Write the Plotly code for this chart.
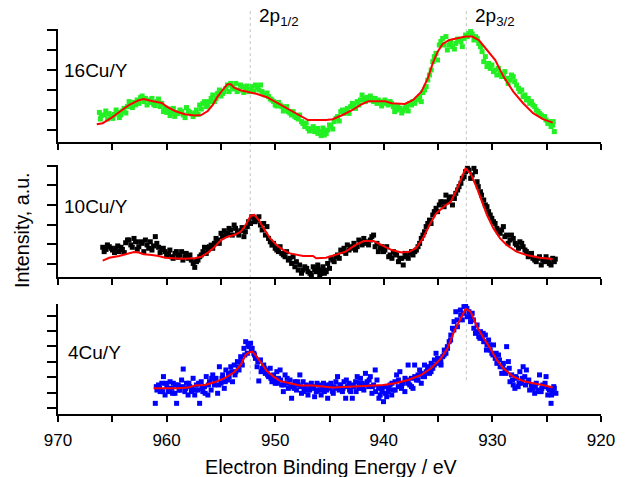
import plotly.graph_objects as go

# ---------------- Cu 2p XPS spectra: binding energy (eV) and intensity (a.u.) ----------------

# 16Cu/Y : measured points
cu16_e = [966.19, 966.03, 965.73, 965.43, 965.13, 964.82, 964.52, 964.22, 963.92, 963.61,
          963.31, 963.01, 962.71, 962.40, 962.10, 961.80, 961.50, 961.19, 960.89, 960.59,
          960.29, 959.98, 959.68, 959.38, 959.08, 958.77, 958.47, 958.17, 957.87, 957.56,
          957.26, 956.96, 956.66, 956.35, 956.05, 955.75, 955.45, 955.14, 954.84, 954.54,
          954.24, 953.93, 953.63, 953.33, 953.03, 952.72, 952.42, 952.12, 951.82, 951.51,
          951.21, 950.91, 950.61, 950.30, 950.00, 949.70, 949.40, 949.09, 948.79, 948.49,
          948.19, 947.88, 947.58, 947.28, 946.98, 946.67, 946.37, 946.07, 945.77, 945.47,
          946.08, 945.78, 945.47, 945.17, 944.87, 944.57, 944.26, 943.96, 943.66, 943.36,
          943.05, 942.75, 942.45, 942.15, 941.84, 941.54, 941.24, 940.94, 940.63, 940.33,
          940.03, 939.73, 939.42, 939.12, 938.82, 938.52, 938.21, 937.91, 937.61, 937.31,
          937.00, 936.70, 936.40, 936.10, 935.95, 935.64, 935.49, 935.19, 934.89, 934.58,
          934.28, 933.98, 933.68, 933.37, 933.07, 932.77, 932.47, 932.16, 931.86, 931.56,
          931.26, 930.95, 930.80, 930.50, 930.20, 929.90, 929.59, 929.29, 928.99, 928.68,
          928.38, 928.08, 927.78, 927.47, 927.17, 926.87, 926.57, 926.27, 925.96, 925.66,
          925.36, 925.06, 924.75, 924.45, 924.30]
cu16_i = [0.88, 0.72, 0.75, 0.55, 0.67, 0.78, 0.88, 0.75, 1.08, 1.17,
          1.25, 1.38, 1.50, 1.62, 1.42, 1.25, 1.38, 1.28, 1.42, 1.17,
          0.92, 0.88, 0.72, 1.08, 0.88, 1.00, 0.75, 1.12, 0.88, 0.67,
          1.00, 1.25, 1.33, 1.17, 1.42, 1.75, 1.58, 2.00, 1.83, 2.08,
          1.92, 2.17, 2.33, 2.00, 2.17, 2.08, 1.92, 2.17, 2.25, 2.00,
          1.92, 1.75, 1.67, 1.50, 1.25, 1.38, 1.17, 1.05, 0.92, 0.75,
          0.67, 0.55, 0.42, 0.17, 0.08, 0.05, -0.08, -0.17, -0.28, -0.05,
          0.08, -0.08, -0.25, 0.00, 0.17, 0.42, 0.67, 0.92, 0.83, 1.08,
          1.17, 1.25, 1.42, 1.50, 1.58, 1.63, 1.70, 1.42, 1.33, 1.42,
          1.33, 1.37, 1.42, 1.17, 1.00, 1.08, 0.97, 1.17, 1.33, 1.42,
          1.50, 1.67, 1.87, 2.17, 2.50, 3.00, 3.42, 3.83, 4.25, 4.58,
          4.67, 4.25, 4.17, 4.33, 4.50, 4.17, 4.75, 4.83, 4.80, 4.67,
          4.33, 3.92, 3.42, 3.17, 3.08, 2.92, 2.75, 2.83, 2.75, 2.58,
          2.50, 2.67, 2.25, 1.92, 1.67, 1.50, 1.33, 1.25, 1.00, 0.83,
          0.67, 0.50, 0.42, 0.25, -0.08]
# remaining points of the same 16Cu/Y scan
cu16_e2 = [966.10, 965.60, 965.30, 964.95, 964.65, 964.35, 964.05, 963.75, 963.45, 963.15,
           962.85, 962.55, 962.25, 961.95, 961.65, 961.35, 961.05, 960.75, 960.45, 960.15,
           959.85, 959.55, 959.25, 958.95, 958.60, 958.30, 958.00, 957.70, 957.40, 957.10,
           956.80, 956.50, 956.20, 955.90, 955.60, 955.30, 955.00, 954.70, 954.40, 954.10,
           953.80, 953.50, 953.20, 952.90, 952.60, 952.30, 952.00, 951.65, 951.35, 951.05,
           950.75, 950.45, 950.15, 949.85, 949.55, 949.25, 948.95, 948.65, 948.35, 948.05,
           947.75, 947.45, 947.15, 946.85, 946.50, 946.20, 945.90, 945.60, 945.30, 945.00,
           944.70, 944.40, 944.10, 943.80, 943.50, 943.20, 942.90, 942.60, 942.30, 942.00,
           941.70, 941.40, 941.10, 940.80, 940.50, 940.20, 939.90, 939.60, 939.30, 939.00,
           938.70, 938.35, 938.05, 937.75, 937.45, 937.15, 936.85, 936.55, 936.25, 935.80,
           935.35, 935.05, 934.75, 934.45, 934.15, 933.85, 933.50, 933.20, 932.90, 932.60,
           932.30, 932.00, 931.70, 931.40, 931.10, 930.65, 930.35, 930.05, 929.75, 929.45,
           929.15, 928.85, 928.55, 928.25, 927.95, 927.60, 927.30, 927.00, 926.70, 926.40,
           926.10, 925.80, 925.50, 925.20, 924.90, 924.60, 924.40]
cu16_i2 = [0.55, 0.95, 0.82, 0.58, 1.00, 0.62, 0.95, 0.85, 1.42, 1.12,
           1.25, 1.33, 1.70, 1.58, 1.50, 1.58, 1.22, 1.55, 1.33, 1.12,
           1.05, 0.92, 0.68, 0.82, 0.92, 0.62, 0.95, 0.80, 0.85, 0.78,
           1.05, 1.42, 1.25, 1.58, 1.42, 1.83, 1.70, 1.92, 2.25, 2.33,
           2.05, 1.92, 2.25, 1.88, 2.20, 2.02, 1.92, 2.12, 2.25, 1.80,
           1.85, 1.55, 1.42, 1.20, 1.25, 0.95, 1.17, 0.85, 0.92, 0.62,
           0.75, 0.33, 0.35, -0.05, 0.17, 0.02, -0.12, 0.10, -0.17, 0.25,
           0.05, 0.58, 0.45, 1.00, 0.95, 0.83, 1.33, 1.08, 1.25, 1.75,
           1.42, 1.50, 1.58, 1.58, 1.50, 1.20, 1.50, 1.25, 1.33, 0.92,
           1.17, 0.85, 1.10, 0.95, 1.25, 1.33, 1.58, 1.42, 2.00, 2.75,
           3.67, 3.50, 4.42, 4.25, 4.00, 4.42, 4.05, 4.55, 4.42, 4.58,
           4.67, 4.92, 4.50, 4.58, 4.17, 3.67, 3.33, 3.25, 3.00, 3.08,
           2.67, 2.92, 2.33, 2.75, 2.42, 2.08, 2.00, 1.75, 1.58, 1.42,
           1.17, 0.92, 0.75, 0.67, 0.33, 0.17, 0.42]

# 16Cu/Y : fitted envelope
cu16_fit_e = [966.43, 965.89, 965.13, 964.37, 963.47, 962.56, 962.11, 961.35, 960.44, 959.99,
              959.23, 958.32, 957.41, 956.81, 956.21, 955.75, 955.30, 954.85, 954.39, 954.09,
              953.78, 953.19, 952.28, 951.67, 950.76, 949.85, 948.95, 948.04, 947.43, 946.98,
              945.32, 944.71, 943.80, 942.89, 941.99, 941.39, 939.87, 939.27, 938.06, 937.30,
              936.54, 935.94, 935.49, 935.04, 934.58, 933.97, 933.22, 932.46, 931.86, 931.25,
              930.50, 929.74, 928.98, 928.08, 927.17, 926.26, 925.35, 924.45]
cu16_fit_i = [0.29, 0.34, 0.59, 0.89, 1.25, 1.49, 1.55, 1.45, 1.35, 1.17,
              0.95, 0.79, 0.72, 0.75, 0.95, 1.25, 1.67, 2.00, 2.29, 2.29,
              2.12, 1.99, 1.89, 1.80, 1.64, 1.37, 1.09, 0.84, 0.62, 0.50,
              0.50, 0.54, 0.75, 1.00, 1.30, 1.44, 1.44, 1.34, 1.30, 1.50,
              1.92, 2.59, 3.34, 3.92, 4.30, 4.50, 4.59, 4.67, 4.67, 4.50,
              4.00, 3.50, 2.67, 1.92, 1.34, 0.84, 0.54, 0.37]

# 10Cu/Y : measured points
cu10_e = [965.88, 965.58, 965.28, 964.98, 964.67, 964.37, 964.07, 963.77, 963.46, 963.16,
          962.86, 962.56, 962.25, 961.95, 961.65, 961.35, 961.04, 960.74, 960.44, 960.14,
          959.83, 959.53, 959.23, 958.93, 958.62, 958.32, 958.02, 957.72, 957.41, 957.11,
          956.81, 956.51, 956.20, 955.90, 955.60, 955.30, 954.99, 954.69, 954.39, 954.09,
          953.78, 953.48, 953.18, 952.88, 952.57, 952.27, 951.97, 951.67, 951.36, 951.06,
          950.76, 950.61, 950.30, 950.00, 949.70, 949.40, 949.09, 948.79, 948.49, 948.19,
          947.88, 947.58, 947.28, 946.98, 946.67, 946.37, 946.07, 945.77, 945.47,
          946.08, 945.78, 945.47, 945.17, 944.87, 944.57, 944.26, 943.96, 943.66, 943.36,
          943.05, 942.75, 942.45, 942.15, 941.84, 941.54, 941.24, 940.94, 940.63, 940.33,
          940.03, 939.73, 939.42, 939.12, 938.82, 938.52, 938.21, 937.91, 937.61, 937.31,
          937.00, 936.70, 936.40, 936.10, 935.79, 935.49, 935.19, 934.89, 934.58, 934.28,
          933.98, 933.68, 933.37, 933.07, 932.77, 932.47, 932.16, 931.86, 931.56, 931.41,
          931.10, 930.80, 930.50, 930.20, 929.90, 929.59, 929.29, 928.99, 928.69, 928.38,
          928.08, 927.78, 927.47, 927.17, 926.87, 926.57, 926.27, 925.96, 925.66, 925.36,
          925.06, 924.75, 924.45, 924.21]
cu10_i = [0.85, 0.74, 0.88, 0.71, 0.80, 0.63, 0.74, 1.08, 1.22, 0.85,
          1.13, 0.88, 1.05, 1.22, 0.80, 0.71, 1.39, 0.85, 0.74, 0.63,
          0.51, 0.37, 0.54, 0.34, 0.63, 0.37, 0.29, 0.20, -0.17, 0.20,
          0.46, 0.85, 0.71, 0.96, 1.05, 1.22, 1.56, 1.69, 1.56, 1.73,
          1.98, 1.59, 1.69, 1.39, 1.90, 2.06, 2.32, 2.23, 1.98, 2.06,
          1.90, 1.30, 0.96, 0.80, 0.63, 0.54, 0.37, 0.20, 0.03, -0.14,
          -0.31, -0.47, -0.14, -0.39, -0.56, -0.31, -0.22, -0.47, -0.31,
          -0.05, -0.31, -0.47, 0.03, 0.29, 0.12, 0.46, 0.71, 0.80, 0.97,
          0.88, 1.05, 0.88, 1.13, 1.30, 1.13, 1.22, 1.47, 1.05, 0.80,
          0.63, 0.88, 0.46, 0.63, 0.46, 0.29, -0.05, 0.37, 0.54, 0.46,
          0.71, 1.05, 1.47, 1.90, 2.23, 2.49, 2.83, 3.00, 3.16, 3.50,
          3.33, 3.00, 3.59, 3.93, 4.35, 4.69, 4.77, 4.52, 4.69, 4.18,
          3.67, 3.25, 2.91, 2.49, 2.15, 1.81, 1.56, 1.90, 1.47, 1.22,
          1.30, 0.97, 1.13, 0.88, 0.63, 0.46, 0.29, 0.12, 0.37, 0.20,
          0.37, 0.03, 0.29, 0.25]
# remaining points of the same 10Cu/Y scan
cu10_e2 = [965.75, 965.45, 965.10, 964.80, 964.50, 964.20, 963.90, 963.60, 963.30, 963.00,
           962.70, 962.40, 962.10, 961.80, 961.50, 961.20, 960.90, 960.60, 960.30, 960.00,
           959.70, 959.40, 959.10, 958.80, 958.50, 958.20, 957.85, 957.55, 957.25, 956.95,
           956.65, 956.35, 956.05, 955.75, 955.45, 955.15, 954.85, 954.55, 954.25, 953.95,
           953.65, 953.35, 953.05, 952.75, 952.45, 952.15, 951.85, 951.50, 951.20, 950.90,
           950.45, 950.15, 949.85, 949.55, 949.25, 948.95, 948.65, 948.35, 948.05, 947.75,
           947.45, 947.10, 946.80, 946.50, 946.20, 945.90, 945.60, 945.30, 945.00, 944.70,
           944.40, 944.10, 943.80, 943.50, 943.20, 942.90, 942.60, 942.30, 942.00, 941.70,
           941.40, 941.10, 940.80, 940.50, 940.20, 939.90, 939.55, 939.25, 938.95, 938.65,
           938.35, 938.05, 937.75, 937.45, 937.15, 936.85, 936.55, 936.25, 935.95, 935.65,
           935.35, 935.05, 934.75, 934.45, 934.15, 933.85, 933.50, 933.20, 932.90, 932.60,
           932.30, 932.00, 931.70, 931.30, 931.00, 930.65, 930.35, 930.05, 929.75, 929.45,
           929.15, 928.85, 928.55, 928.25, 927.90, 927.60, 927.30, 927.00, 926.70, 926.40,
           926.10, 925.80, 925.50, 925.20, 924.90, 924.60, 924.30]
cu10_i2 = [0.63, 0.97, 0.80, 0.58, 0.92, 0.85, 0.58, 1.22, 0.97, 1.30,
           0.75, 1.13, 0.63, 0.97, 1.13, 0.92, 1.05, 0.58, 0.80, 0.46,
           0.71, 0.29, 0.63, 0.46, 0.20, 0.54, 0.46, 0.03, 0.12, 0.37,
           0.63, 0.54, 0.88, 0.80, 1.30, 1.05, 1.39, 1.47, 1.81, 1.47,
           1.81, 1.47, 1.85, 1.64, 2.15, 2.40, 2.15, 2.40, 1.73, 1.47,
           1.13, 1.05, 0.71, 0.88, 0.46, 0.63, 0.29, 0.37, 0.12, -0.05,
           -0.31, -0.22, -0.47, -0.14, -0.39, -0.56, -0.14, -0.39, -0.22, 0.20,
           0.37, 0.29, 0.63, 0.54, 0.71, 0.80, 0.71, 1.22, 0.97, 1.05,
           0.97, 1.39, 0.88, 0.63, 0.88, 0.71, 0.37, 0.29, 0.54, 0.12,
           0.29, 0.54, 0.29, 0.63, 0.63, 0.88, 1.30, 1.64, 2.06, 2.06,
           2.66, 2.66, 3.16, 2.91, 3.16, 3.41, 3.33, 3.76, 4.10, 4.43,
           4.86, 4.35, 4.86, 3.93, 3.50, 3.00, 2.66, 2.32, 2.06, 1.64,
           1.73, 1.39, 1.05, 1.47, 1.05, 0.80, 1.05, 0.71, 0.37, 0.54,
           0.20, 0.29, -0.05, 0.12, 0.20, -0.05, 0.12]

# 10Cu/Y : fitted envelope
cu10_fit_e = [965.88, 965.28, 964.37, 963.46, 963.01, 962.56, 962.10, 961.35, 960.74, 960.14,
              959.53, 958.62, 957.41, 956.81, 956.20, 955.60, 954.99, 954.39, 953.78, 953.18,
              952.72, 952.27, 951.91, 951.51, 951.06, 950.46, 949.85, 949.25, 948.64, 948.04,
              947.43, 946.52, 946.23, 945.32, 944.41, 943.51, 942.60, 941.84, 940.94, 940.18,
              939.27, 938.37, 937.61, 937.00, 936.40, 935.79, 935.19, 934.28, 933.83, 933.37,
              932.92, 932.47, 932.01, 931.41, 930.95, 930.50, 929.90, 929.29, 928.69, 927.78,
              926.87, 925.66, 924.45]
cu10_fit_i = [0.17, 0.32, 0.41, 0.54, 0.61, 0.58, 0.49, 0.46, 0.41, 0.32,
              0.29, 0.27, 0.29, 0.37, 0.58, 0.85, 1.22, 1.39, 1.47, 1.64,
              1.98, 2.44, 2.49, 2.23, 1.81, 1.30, 0.96, 0.71, 0.54, 0.46,
              0.41, 0.41, 0.29, 0.32, 0.46, 0.63, 0.97, 1.17, 1.17, 0.97,
              0.71, 0.59, 0.63, 0.83, 1.30, 1.98, 2.57, 3.00, 3.16, 3.67,
              4.26, 4.86, 4.60, 3.84, 3.16, 2.49, 1.81, 1.30, 0.97, 0.63,
              0.46, 0.32, 0.25]

# 4Cu/Y : measured points
cu4_e = [961.04, 960.89, 960.74, 960.59, 960.44, 960.29, 960.14, 959.98, 959.83, 959.68,
         959.53, 959.38, 959.23, 959.08, 958.93, 958.77, 958.62, 958.47, 958.32, 958.17,
         958.02, 957.87, 957.72, 957.56, 957.41, 957.26, 957.11, 956.96, 956.81, 956.66,
         956.51, 956.35, 956.20, 956.05, 955.90, 955.75, 955.60, 955.45, 955.30, 955.14,
         954.99, 954.84, 954.69, 954.54, 954.39, 954.24, 954.09, 953.93, 953.78, 953.63,
         953.48, 953.33, 953.18, 953.03, 952.88, 952.72, 952.57, 952.42, 952.27, 952.12,
         951.97, 951.82, 951.67, 951.51, 951.36, 951.21, 951.06, 950.91, 950.76, 950.61,
         950.46, 950.30, 950.15, 950.00, 949.85, 949.70, 949.55, 949.40, 949.25, 949.09,
         948.94, 948.79, 948.64, 948.49, 948.34, 948.19, 948.04, 947.88, 947.73, 947.58,
         947.43, 947.28, 947.13, 946.98, 946.82, 946.67, 946.52, 946.37, 946.22, 946.07,
         945.92, 945.77, 945.62, 945.47,
         945.32, 945.17, 945.02, 944.87, 944.72, 944.57, 944.41, 944.26, 944.11, 943.96,
         943.81, 943.66, 943.51, 943.36, 943.20, 943.05, 942.90, 942.75, 942.60, 942.45,
         942.30, 942.15, 941.99, 941.84, 941.69, 941.54, 941.39, 941.24, 941.09, 940.94,
         940.79, 940.63, 940.48, 940.33, 940.18, 940.03, 939.88, 939.73, 939.58, 939.42,
         939.27, 939.12, 938.97, 938.82, 938.67, 938.52, 938.37, 938.21, 938.06, 937.91,
         937.76, 937.61, 937.46, 937.31, 937.16, 937.00, 936.85, 936.70, 936.55, 936.40,
         936.25, 936.10, 935.95, 935.79, 935.64, 935.49, 935.34, 935.19, 935.04, 934.89,
         934.73, 934.58, 934.43, 934.28, 934.13, 933.98, 933.83, 933.68, 933.53, 933.37,
         933.22, 932.92, 932.77, 932.62, 932.47, 932.32, 932.16, 932.01, 931.86, 931.71,
         931.56, 931.41, 931.26, 931.10, 930.95, 930.80, 930.65, 930.50, 930.35, 930.20,
         930.05, 929.90, 929.74, 929.59, 929.44, 929.29, 929.14, 928.99, 928.84, 928.69,
         928.53, 928.38, 928.23, 928.08, 927.93, 927.78, 927.63, 927.47, 927.32, 927.17,
         927.02, 926.87, 926.72, 926.57, 926.42, 926.27, 926.11, 925.96, 925.81, 925.66,
         925.51, 925.36, 925.21, 925.06, 924.90, 924.75, 924.60, 924.45, 924.30, 924.15]
cu4_i = [0.32, 1.18, 1.51, 1.08, 1.62, 2.05, 0.86, 1.40, 1.08, 1.72,
         1.29, 1.62, 0.97, 0.32, 1.51, 1.18, 1.83, 2.54, 1.08, 1.62,
         0.86, 1.40, 1.08, 1.94, 0.86, 1.51, 1.18, 0.32, 1.72, 1.08,
         1.40, 2.05, 0.86, 1.72, 1.18, 2.16, 1.51, 1.94, 0.97, 2.69,
         1.62, 2.16, 1.29, 2.48, 1.83, 2.05, 2.69, 1.72, 2.80, 2.37,
         3.02, 2.48, 3.34, 2.80, 3.88, 4.31, 3.56, 3.99, 4.21, 3.88,
         3.56, 3.23, 2.69, 1.77, 3.13, 2.59, 2.80, 2.26, 2.48, 2.05,
         2.59, 1.72, 2.16, 1.62, 2.37, 1.94, 2.48, 1.51, 1.08, 2.16,
         1.62, 1.29, 1.83, 0.65, 1.40, 1.72, 1.18, 1.51, 2.16, 0.97,
         1.72, 1.29, 1.51, 0.86, 1.18, 1.62, 1.40, 0.75, 1.08, 1.18,
         1.51, 0.86, 1.29, 1.08,
         1.51, 0.65, 1.29, 1.62, 1.08, 1.40, 1.72, 2.05, 1.18, 1.51,
         1.08, 1.72, 0.65, 1.40, 1.62, 1.08, 0.65, 1.40, 1.72, 2.05,
         1.29, 1.94, 1.62, 1.18, 2.26, 1.72, 1.40, 2.05, 0.97, 1.51,
         2.48, 1.83, 1.29, 0.86, 1.08, 0.43, 1.40, 0.75, 1.08, 1.51,
         0.86, 1.18, 1.72, 2.16, 1.40, 2.37, 1.29, 1.62, 1.08, 1.83,
         2.80, 1.51, 1.94, 1.29, 2.80, 1.83, 2.16, 2.48, 1.62, 2.05,
         2.80, 2.37, 2.69, 2.26, 2.91, 2.59, 3.13, 3.56, 2.91, 3.02,
         2.80, 3.34, 3.77, 3.56, 3.88, 4.31, 4.74, 5.18, 5.61, 6.25,
         5.28, 6.04, 5.72, 6.58, 6.69, 5.93, 6.25, 5.61, 6.15, 5.18,
         4.85, 5.39, 4.64, 4.96, 4.53, 4.31, 4.74, 4.10, 4.42, 3.77,
         3.56, 4.10, 3.23, 2.91, 3.45, 2.69, 2.26, 2.91, 2.48, 3.99,
         3.02, 1.72, 2.16, 1.51, 1.29, 1.94, 1.40, 2.37, 1.62, 2.69,
         2.05, 2.48, 1.72, 1.18, 1.51, 1.29, 0.97, 1.62, 1.18, 2.16,
         1.08, 1.51, 1.40, 2.05, 0.86, 1.18, 0.32, 1.08, 1.29, 0.97]
# remaining points of the same 4Cu/Y scan
cu4_e2 = [960.95, 960.65, 960.35, 960.05, 959.75, 959.45, 959.15, 958.85, 958.55, 958.25,
          957.95, 957.65, 957.35, 957.05, 956.75, 956.45, 956.15, 955.85, 955.55, 955.20,
          954.90, 954.60, 954.30, 954.00, 953.70, 953.40, 953.10, 952.80, 952.50, 952.20,
          951.90, 951.60, 951.30, 951.00, 950.70, 950.40, 950.10, 949.80, 949.50, 949.20,
          948.90, 948.55, 948.25, 947.95, 947.65, 947.35, 947.05, 946.75, 946.45, 946.15,
          945.85, 945.55, 945.25, 944.95, 944.65, 944.35, 944.05, 943.75, 943.45, 943.15,
          942.85, 942.55, 942.25, 941.95, 941.65, 941.35, 941.05, 940.75, 940.45, 940.15,
          939.85, 939.55, 939.25, 938.95, 938.65, 938.35, 938.05, 937.75, 937.45, 937.15,
          936.85, 936.55, 936.25, 935.95, 935.65, 935.35, 935.05, 934.75, 934.45, 934.15,
          933.85, 933.55, 933.25, 932.95, 932.65, 932.35, 932.05, 931.75, 931.45, 931.15,
          930.85, 930.55, 930.25, 929.95, 929.65, 929.35, 929.05, 928.75, 928.45, 928.15,
          927.85, 927.55, 927.25, 926.95, 926.65, 926.35, 926.05, 925.75, 925.45, 925.15,
          924.85, 924.55, 924.35]
cu4_i2 = [1.40, 1.29, 1.08, 1.62, 1.29, 0.97, 1.51, 1.18, 1.40, 1.29,
          1.62, 1.29, 1.18, 1.62, 1.29, 0.97, 1.51, 1.94, 1.83, 1.51,
          1.94, 1.72, 2.26, 2.37, 2.16, 2.69, 3.02, 3.45, 4.10, 3.77,
          3.45, 3.02, 2.37, 2.59, 2.16, 1.94, 1.83, 1.62, 1.83, 1.51,
          1.94, 1.40, 1.29, 1.72, 1.40, 1.08, 1.18, 1.40, 1.29, 1.62,
          1.18, 1.62, 1.18, 1.51, 0.97, 1.29, 1.51, 1.29, 1.83, 1.18,
          1.51, 1.08, 1.62, 1.29, 1.51, 1.83, 1.40, 1.08, 0.65, 1.29,
          0.97, 1.29, 1.62, 1.18, 1.83, 1.51, 1.94, 1.62, 1.40, 2.05,
          1.83, 2.26, 2.05, 2.48, 2.37, 2.80, 3.23, 3.02, 3.45, 3.99,
          4.42, 5.07, 5.72, 6.36, 6.15, 6.47, 5.93, 5.72, 4.96, 4.53,
          4.85, 3.77, 4.10, 3.45, 3.56, 3.13, 2.69, 2.26, 2.59, 1.83,
          2.05, 1.62, 1.94, 1.51, 1.83, 1.29, 1.40, 1.08, 1.29, 1.62,
          1.29, 0.86, 1.40]

# 4Cu/Y : fitted envelope
cu4_fit_e = [961.19, 960.14, 958.93, 958.02, 957.41, 956.51, 955.60, 954.69, 953.78, 953.18,
             952.72, 952.42, 952.12, 951.82, 951.36, 950.76, 950.15, 949.55, 948.64, 947.73,
             946.52, 945.31, 944.72, 943.20, 941.69, 940.03, 938.97, 937.76, 936.55, 935.64,
             934.73, 934.13, 933.53, 932.92, 932.47, 932.01, 931.41, 930.80, 930.20, 929.59,
             928.99, 928.08, 927.17, 926.27, 925.36, 924.45]
cu4_fit_i = [1.29, 1.29, 1.29, 1.34, 1.47, 1.51, 1.68, 1.94, 2.33, 2.80,
             3.45, 3.62, 3.67, 3.45, 3.02, 2.41, 2.05, 1.77, 1.62, 1.47,
             1.47, 1.40, 1.34, 1.40, 1.47, 1.51, 1.62, 1.83, 2.16, 2.59,
             3.23, 3.88, 4.96, 5.82, 6.43, 6.25, 5.28, 4.53, 3.88, 3.13,
             2.59, 2.05, 1.77, 1.62, 1.51, 1.34]

# Peak positions marked by dotted lines
peak_e = [952.3, 932.4]
peak_labels = ["2p<sub>1/2</sub>", "2p<sub>3/2</sub>"]

sample_names = ["16Cu/Y", "10Cu/Y", "4Cu/Y"]
x_major = [970, 960, 950, 940, 930, 920]

for a, b in [(cu16_e, cu16_i), (cu16_e2, cu16_i2), (cu16_fit_e, cu16_fit_i),
             (cu10_e, cu10_i), (cu10_e2, cu10_i2), (cu10_fit_e, cu10_fit_i),
             (cu4_e, cu4_i), (cu4_e2, cu4_i2), (cu4_fit_e, cu4_fit_i)]:
    assert len(a) == len(b), (len(a), len(b))

FONT = "Arial, Liberation Sans, sans-serif"

panels = [
    # (x axis, y axis, points e, points i, fit e, fit i, colour)
    ("x", "y", cu16_e + cu16_e2, cu16_i + cu16_i2, cu16_fit_e, cu16_fit_i, "#22f022"),
    ("x2", "y2", cu10_e + cu10_e2, cu10_i + cu10_i2, cu10_fit_e, cu10_fit_i, "#000000"),
    ("x3", "y3", cu4_e + cu4_e2, cu4_i + cu4_i2, cu4_fit_e, cu4_fit_i, "#0000ff"),
]

fig = go.Figure()
for xa, ya, pe, pi, fe, fi, col in panels:
    fig.add_trace(go.Scatter(x=pe, y=pi, xaxis=xa, yaxis=ya, mode="markers",
                             marker=dict(symbol="square", size=5, color=col, line=dict(width=0)),
                             showlegend=False, hoverinfo="skip"))
    fig.add_trace(go.Scatter(x=fe, y=fi, xaxis=xa, yaxis=ya, mode="lines",
                             line=dict(color="#ff0000", width=2),
                             showlegend=False, hoverinfo="skip"))

axis_common = dict(showline=True, linecolor="black", linewidth=2, showgrid=False,
                   zeroline=False, ticks="outside", tickcolor="black", tickwidth=2)

y_domains = [[0.7065, 1.0], [0.3558, 0.6468], [0.0, 0.2857]]
y_ranges = [[-0.6, 5.05], [-0.66, 5.03], [-0.37, 6.75]]
y_tickvals = [[0, 1, 2, 3, 4, 5], [0, 1, 2, 3, 4, 5], [0, 1, 2, 3, 4, 5, 6]]

layout_axes = {}
for k in range(3):
    sfx = "" if k == 0 else str(k + 1)
    layout_axes["xaxis" + sfx] = dict(
        axis_common, domain=[0, 1], range=[970, 920], anchor="y" + sfx,
        tickmode="array", tickvals=x_major, ticklen=6,
        minor=dict(ticks="outside", ticklen=6, tickwidth=2, tickcolor="black",
                   dtick=5, tick0=920, showgrid=False),
        showticklabels=(k == 2), tickfont=dict(family=FONT, size=17, color="black"),
        ticklabelstandoff=4)
    layout_axes["yaxis" + sfx] = dict(
        axis_common, domain=y_domains[k], range=y_ranges[k], anchor="x" + sfx,
        tickvals=y_tickvals[k], ticklen=9, showticklabels=False)

fig.update_layout(**layout_axes)

annotations = []
label_pos = [(969.6, 3.0, "x", "y"), (969.6, 2.9, "x2", "y2"), (969.3, 3.6, "x3", "y3")]
for name, (lx, ly, xr, yr) in zip(sample_names, label_pos):
    annotations.append(dict(text=name, x=lx, y=ly, xref=xr, yref=yr, xanchor="left",
                            yanchor="middle", showarrow=False,
                            font=dict(family=FONT, size=19, color="black")))
for pe, lab in zip(peak_e, peak_labels):
    annotations.append(dict(text=lab, x=pe, y=1.03, xref="x", yref="paper", xanchor="left",
                            yanchor="middle", xshift=7, showarrow=False,
                            font=dict(family=FONT, size=19, color="black")))
annotations.append(dict(text="Electron Binding Energy / eV", x=0.503, y=-0.138, xref="paper",
                        yref="paper", xanchor="center", yanchor="middle", showarrow=False,
                        font=dict(family=FONT, size=19.7, color="black")))
annotations.append(dict(text="Intensity, a.u.", x=-0.065, y=0.477, xref="paper", yref="paper",
                        xanchor="center", yanchor="middle", textangle=-90, showarrow=False,
                        font=dict(family=FONT, size=19.7, color="black")))

shapes = [dict(type="line", xref="x3", yref="paper", x0=pe, x1=pe, y0=0.088, y1=1.049,
               line=dict(color="#c4c4c4", width=1, dash="dot"), layer="below")
          for pe in peak_e]

fig.update_layout(width=627, height=477, autosize=False,
                  margin=dict(l=58, r=18, t=29, b=63, pad=0),
                  paper_bgcolor="white", plot_bgcolor="white",
                  annotations=annotations, shapes=shapes,
                  font=dict(family=FONT, color="black"))

fig.write_html("out.html")
